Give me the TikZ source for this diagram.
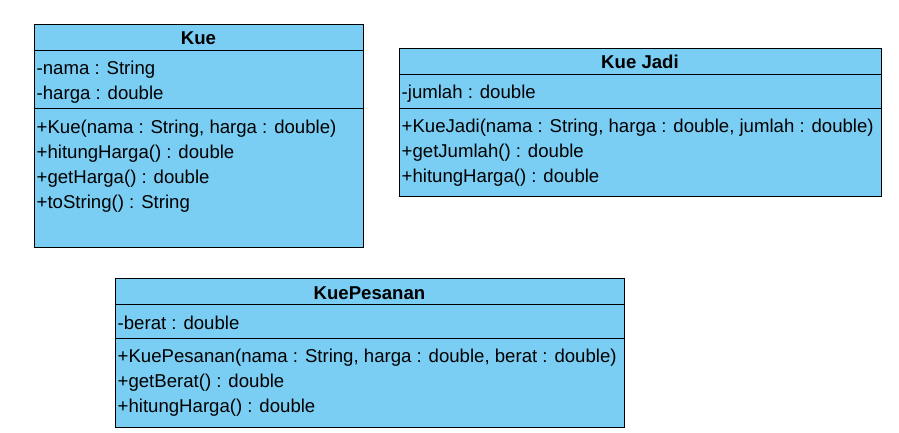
\documentclass[tikz,border=0pt]{standalone}
\usepackage{fontspec}
\setmainfont{Liberation Sans}
\definecolor{umlfill}{RGB}{122,206,244}
\begin{document}
\begin{tikzpicture}[x=1pt,y=-1pt,
  comp/.style={draw=black, line width=1.4pt, fill=umlfill, rectangle, anchor=north west, inner sep=0pt},
  ctitle/.style={anchor=base, inner sep=0pt, font=\fontsize{18.6}{22}\selectfont\bfseries},
  member/.style={anchor=base west, inner sep=0pt, font=\fontsize{18.6}{22}\selectfont}]
\useasboundingbox (0,0) rectangle (899,433);
% Kue
\node[comp, minimum width=329pt, minimum height=26pt] (kueH) at (34,24) {};
\node[comp, minimum width=329pt, minimum height=58pt] (kueA) at (34,50) {};
\node[comp, minimum width=329pt, minimum height=139pt] (kueM) at (34,108) {};
\node[ctitle] (kueT) at (198.5,45) {Kue};
\node[member] (kue1) at (36.5,75) {-nama : String};
\node[member] (kue2) at (36.5,100) {-harga : double};
\node[member] (kue3) at (36.5,133) {+Kue(nama : String, harga : double)};
\node[member] (kue4) at (36.5,158) {+hitungHarga() : double};
\node[member] (kue5) at (36.5,183) {+getHarga() : double};
\node[member] (kue6) at (36.5,208) {+toString() : String};
% Kue Jadi
\node[comp, minimum width=482pt, minimum height=26pt] (jadiH) at (399,48) {};
\node[comp, minimum width=482pt, minimum height=34pt] (jadiA) at (399,74) {};
\node[comp, minimum width=482pt, minimum height=88pt] (jadiM) at (399,108) {};
\node[ctitle] (jadiT) at (640,69) {Kue Jadi};
\node[member] (jadi1) at (401.5,99) {-jumlah : double};
\node[member] (jadi2) at (401.5,132.5) {+KueJadi(nama : String, harga : double, jumlah : double)};
\node[member] (jadi3) at (401.5,157.5) {+getJumlah() : double};
\node[member] (jadi4) at (401.5,182.5) {+hitungHarga() : double};
% KuePesanan
\node[comp, minimum width=509pt, minimum height=26pt] (pesH) at (115,278) {};
\node[comp, minimum width=509pt, minimum height=34pt] (pesA) at (115,304) {};
\node[comp, minimum width=509pt, minimum height=89pt] (pesM) at (115,338) {};
\node[ctitle] (pesT) at (369.5,299) {KuePesanan};
\node[member] (pes1) at (117.5,329) {-berat : double};
\node[member] (pes2) at (117.5,362) {+KuePesanan(nama : String, harga : double, berat : double)};
\node[member] (pes3) at (117.5,387) {+getBerat() : double};
\node[member] (pes4) at (117.5,412) {+hitungHarga() : double};
\end{tikzpicture}
\end{document}
